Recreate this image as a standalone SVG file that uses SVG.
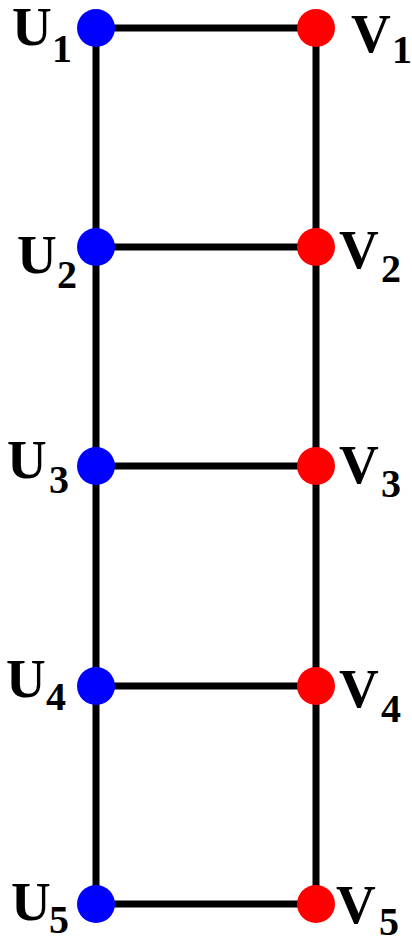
<svg xmlns="http://www.w3.org/2000/svg" width="412" height="943" viewBox="0 0 412 943">
<style>
.e{stroke:#000;stroke-width:7;fill:none}
.u{fill:#0000ff}
.v{fill:#ff0000}
.l{font-family:"Liberation Serif","Times New Roman",serif;font-weight:bold;font-size:55px;fill:#000}
.s{font-family:"Liberation Serif","Times New Roman",serif;font-weight:bold;font-size:40px;fill:#000}
</style>
<rect width="412" height="943" fill="#fff"/>
<g id="edges">
<line class="e" x1="96" y1="28" x2="96" y2="904"/>
<line class="e" x1="316" y1="28" x2="316" y2="904"/>
<line class="e" x1="96" y1="28" x2="316" y2="28"/>
<line class="e" x1="96" y1="247" x2="316" y2="247"/>
<line class="e" x1="96" y1="466" x2="316" y2="466"/>
<line class="e" x1="96" y1="686" x2="316" y2="686"/>
<line class="e" x1="96" y1="904" x2="316" y2="904"/>
</g>
<g id="U1"><circle class="u" cx="96" cy="28" r="19"/><text class="l" x="12" y="45">U</text><text class="s" x="52" y="62">1</text></g>
<g id="U2"><circle class="u" cx="96" cy="247" r="19"/><text class="l" x="17" y="273">U</text><text class="s" x="57" y="288">2</text></g>
<g id="U3"><circle class="u" cx="96" cy="466" r="19"/><text class="l" x="7" y="478">U</text><text class="s" x="49" y="493">3</text></g>
<g id="U4"><circle class="u" cx="96" cy="686" r="19"/><text class="l" x="6" y="697">U</text><text class="s" x="46" y="710">4</text></g>
<g id="U5"><circle class="u" cx="96" cy="904" r="19"/><text class="l" x="11" y="920">U</text><text class="s" x="49" y="933">5</text></g>
<g id="V1"><circle class="v" cx="316" cy="28" r="19"/><text class="l" x="351" y="52">V</text><text class="s" x="392" y="63">1</text></g>
<g id="V2"><circle class="v" cx="316" cy="247" r="19"/><text class="l" x="339" y="268">V</text><text class="s" x="381" y="282">2</text></g>
<g id="V3"><circle class="v" cx="316" cy="466" r="19"/><text class="l" x="339" y="483">V</text><text class="s" x="381" y="497">3</text></g>
<g id="V4"><circle class="v" cx="316" cy="686" r="19"/><text class="l" x="339" y="707">V</text><text class="s" x="381" y="722">4</text></g>
<g id="V5"><circle class="v" cx="316" cy="904" r="19"/><text class="l" x="336" y="923">V</text><text class="s" x="379" y="935">5</text></g>
</svg>
